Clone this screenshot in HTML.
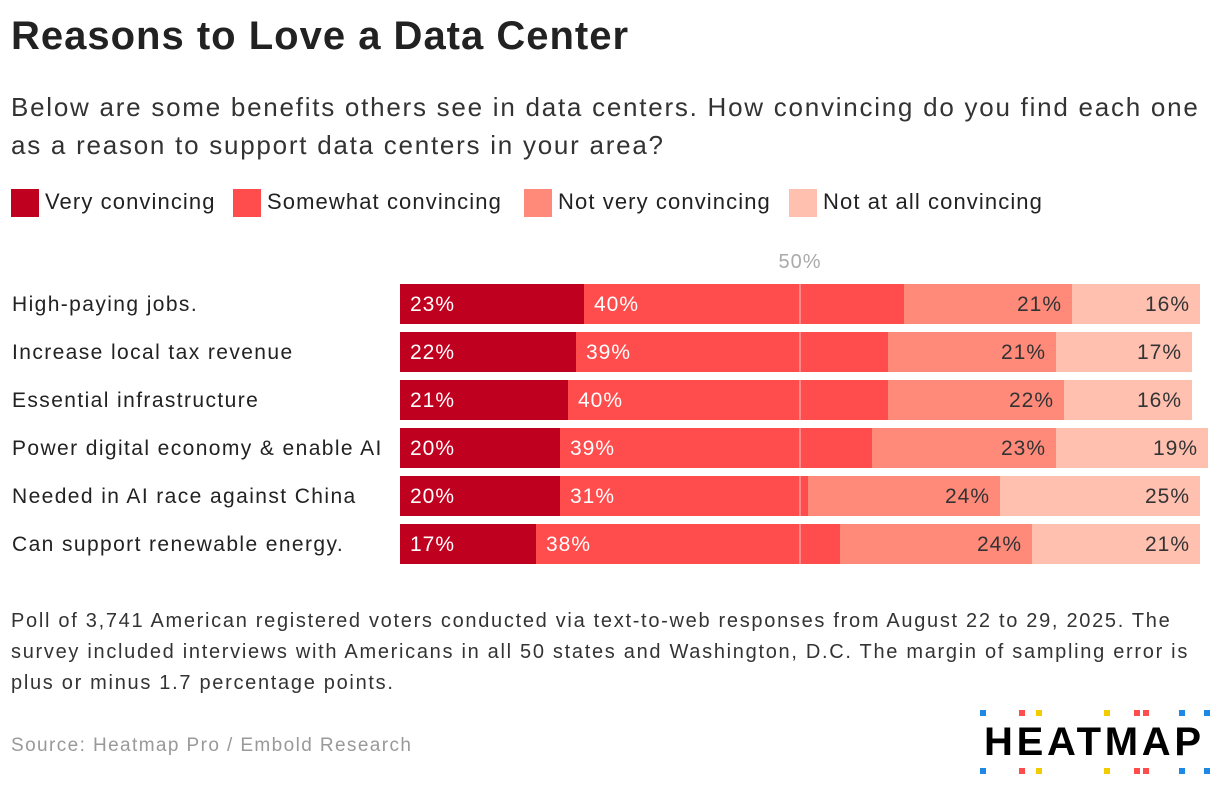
<!DOCTYPE html>
<html><head><meta charset="utf-8">
<style>
body{margin:0;background:#fff;width:1220px;height:794px;overflow:hidden;font-family:"Liberation Sans",sans-serif;color:#222}
.t{position:absolute;white-space:nowrap}
.sw{position:absolute;width:28px;height:28px}
.lg{font-size:22px;letter-spacing:1.1px}
</style></head><body>
<div class="t" style="left:11px;top:14px;font-size:40px;font-weight:bold;color:#222;letter-spacing:1px">Reasons to Love a Data Center</div>
<div class="t" style="left:11px;top:88px;font-size:26px;line-height:38px;color:#333;letter-spacing:1.75px">Below are some benefits others see in data centers. How convincing do you find each one<br>as a reason to support data centers in your area?</div>
<div>
<div class="sw" style="left:11px;top:189px;background:#c0001f"></div>
<div class="t lg" style="left:45px;top:189px">Very convincing</div>
<div class="sw" style="left:233px;top:189px;background:#ff4d4d"></div>
<div class="t lg" style="left:267px;top:189px">Somewhat convincing</div>
<div class="sw" style="left:524px;top:189px;background:#ff8a7a"></div>
<div class="t lg" style="left:558px;top:189px">Not very convincing</div>
<div class="sw" style="left:789px;top:189px;background:#ffc0b0"></div>
<div class="t lg" style="left:823px;top:189px">Not at all convincing</div>
</div>
<svg id="chart" width="1220" height="794" style="position:absolute;left:0;top:0"></svg>
<div class="t" style="left:11px;top:606px;font-size:20px;line-height:31px;color:#333;letter-spacing:1.7px">Poll of 3,741 American registered voters conducted via text-to-web responses from August 22 to 29, 2025. The<br>survey included interviews with Americans in all 50 states and Washington, D.C. The margin of sampling error is<br>plus or minus 1.7 percentage points.</div>
<div class="t" style="left:11px;top:735px;font-size:19px;color:#999;letter-spacing:1.4px">Source: Heatmap Pro / Embold Research</div>
<div style="position:absolute;left:980px;top:710px;width:240px;height:64px">
<div class="t" style="left:4px;top:10px;font-size:40px;font-weight:bold;color:#000;letter-spacing:3.7px">HEATMAP</div>
<svg width="240" height="64" style="position:absolute;left:0;top:0">
<g id="dots"></g></svg>
</div>
<script>
const categories=["High-paying jobs.","Increase local tax revenue","Essential infrastructure","Power digital economy & enable AI","Needed in AI race against China","Can support renewable energy."];
const veryConvincing=[23,22,21,20,20,17];
const somewhatConvincing=[40,39,40,39,31,38];
const notVeryConvincing=[21,21,22,23,24,24];
const notAtAllConvincing=[16,17,16,19,25,21];
const seriesNames=["very","somewhat","not-very","not-at-all"];
const colors=["#c0001f","#ff4d4d","#ff8a7a","#ffc0b0"];
const textColors=["#fff","#fff","#333","#333"];
const ns="http://www.w3.org/2000/svg";
const svg=document.getElementById('chart');
const x0=400,pxPer=8,rowTop=284,rowStep=48,barH=40;
const xs=v=>x0+v*pxPer;
function mk(tag,attrs){const e=document.createElementNS(ns,tag);for(const k in attrs)e.setAttribute(k,attrs[k]);svg.appendChild(e);return e;}
const series=[veryConvincing,somewhatConvincing,notVeryConvincing,notAtAllConvincing];
categories.forEach((c,i)=>{
 const y=rowTop+i*rowStep;
 const lab=mk('text',{x:12,y:y+27,'font-size':21,fill:'#222','letter-spacing':1.4});lab.textContent=c;
 
 
 let cum=0;
 series.forEach((s,j)=>{
  const v=s[i];
  const r=mk('rect',{x:xs(cum),y:y,width:v*pxPer,height:barH,fill:colors[j]});
  
  
  const left=j<2;
  const t=mk('text',{x:left?xs(cum)+10:xs(cum+v)-10,y:y+27,'font-size':21,fill:textColors[j],'text-anchor':left?'start':'end','letter-spacing':1});
  t.textContent=v+'%';
  
  
  cum+=v;
 });
});
const ml=mk('line',{x1:xs(50),x2:xs(50),y1:rowTop,y2:rowTop+5*rowStep+barH,stroke:'#fff','stroke-opacity':0.45,'stroke-width':1.5});


const mt=mk('text',{x:xs(50),y:268,'font-size':20,fill:'#aaa','text-anchor':'middle','letter-spacing':1});mt.textContent='50%';


const g=document.getElementById('dots');
const dots=[[0,'#1e88e5'],[39,'#ff4d4d'],[56,'#f0cc00'],[124,'#f0cc00'],[154,'#ff4d4d'],[163,'#ff4d4d'],[199,'#1e88e5'],[224,'#1e88e5']];
dots.forEach(([dx,col])=>{[0,58].forEach(dy=>{const r=document.createElementNS(ns,'rect');r.setAttribute('x',dx);r.setAttribute('y',dy);r.setAttribute('width',6);r.setAttribute('height',6);r.setAttribute('fill',col);g.appendChild(r);});});
</script>
</body></html>
